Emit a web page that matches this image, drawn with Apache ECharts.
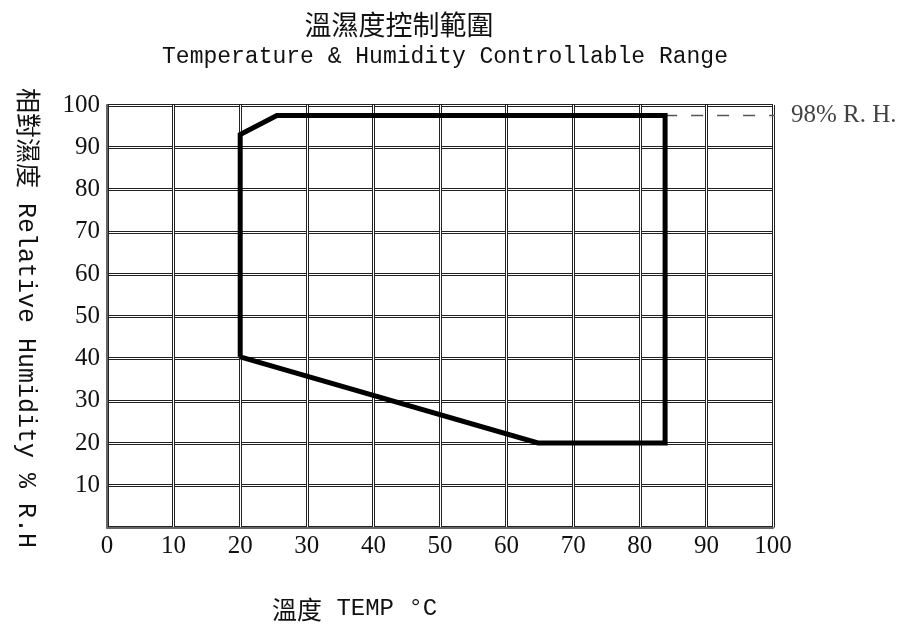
<!DOCTYPE html>
<html>
<head>
<meta charset="utf-8">
<script src="https://cdn.jsdelivr.net/npm/echarts@6/dist/echarts.min.js"></script>
<style>html,body{margin:0;padding:0;background:#fff;}#c{width:902px;height:626px;}</style>
</head>
<body>
<div id="c"></div>
<script>
// ---- data ----
const titleCN = '溫濕度控制範圍';
const titleEN = 'Temperature & Humidity Controllable Range';
const yAxisName = '相對濕度 Relative Humidity % R.H';
const xAxisNameCN = '溫度';
const xAxisNameEN = 'TEMP';
const xAxisUnit = '°C';
const tempPoints = [20, 20, 25.5, 83.8, 83.8, 64.7, 20];      // °C
const rhPoints   = [40.4, 93, 97.5, 97.5, 20, 20, 40.4];      // % R.H.
const refTemp = [83.8, 100];
const refTickTemp = [100, 101.5];
const refRH = 97.5;
const refLabel = '98% R. H.';
const axisMin = 0, axisMax = 100, axisStep = 10;

const polygon = tempPoints.map((t, i) => [t, rhPoints[i]]);
const refLine = refTemp.map(t => [t, refRH]);
const refTick = refTickTemp.map(t => [t, refRH]);

const serif = '"Liberation Serif", "DejaVu Serif", serif';
const mono = '"Liberation Mono", "Noto Sans CJK TC", monospace';
const cjk = '"Noto Sans CJK TC", sans-serif';

const chart = echarts.init(document.getElementById('c'), null, {renderer: 'canvas'});
const gridBox = {left: 107, right: 129, top: 105, bottom: 98.5};

function valAxis(extra) {
  return Object.assign({
    type: 'value', min: axisMin, max: axisMax, interval: axisStep,
  }, extra);
}

chart.setOption({
  backgroundColor: '#fff',
  animation: false,
  grid: Object.assign({containLabel: false}, gridBox),
  xAxis: [
    valAxis({
      position: 'bottom',
      axisLine: {show: true, lineStyle: {color: '#666', width: 2}},
      axisTick: {show: false},
      axisLabel: {color: '#111', fontSize: 25, fontFamily: serif, margin: 6},
      splitLine: {show: true, lineStyle: {color: '#222', width: 3}}
    }),
    valAxis({
      position: 'bottom',
      axisLine: {show: false}, axisTick: {show: false}, axisLabel: {show: false},
      splitLine: {show: true, lineStyle: {color: '#fff', width: 1}}
    })
  ],
  yAxis: [
    valAxis({
      position: 'left',
      axisLine: {show: true, lineStyle: {color: '#666', width: 2}},
      axisTick: {show: false},
      axisLabel: {color: '#111', fontSize: 25, fontFamily: serif, margin: 7,
        formatter: v => v === 0 ? '' : String(v)},
      splitLine: {show: true, lineStyle: {color: '#222', width: 3}}
    }),
    valAxis({
      position: 'right',
      axisLine: {show: false}, axisTick: {show: false}, axisLabel: {show: false},
      splitLine: {show: true, lineStyle: {color: '#fff', width: 1}}
    })
  ],
  title: [
    {text: titleCN, left: 394, top: 6, textAlign: 'center',
     textStyle: {fontFamily: cjk, fontSize: 27, fontWeight: 'normal', color: '#111'}},
    {text: titleEN, left: 440, top: 40, textAlign: 'center',
     textStyle: {fontFamily: mono, fontSize: 23, fontWeight: 'normal', color: '#111'}}
  ],
  graphic: [
    {type: 'text', x: 26, y: 318, rotation: -Math.PI / 2,
     style: {text: yAxisName, font: '25px ' + mono, fill: '#111',
             align: 'center', verticalAlign: 'middle'}},
    {type: 'text', x: 272, y: 609,
     style: {text: '{c|' + xAxisNameCN + '}{m| ' + xAxisNameEN + ' ' + xAxisUnit + '}',
             fill: '#111', verticalAlign: 'middle', align: 'left',
             rich: {c: {fontFamily: cjk, fontSize: 25, fill: '#111'},
                    m: {fontFamily: mono, fontSize: 24, fill: '#111'}}}}
  ],
  series: [
    {type: 'line', xAxisIndex: 0, yAxisIndex: 0, data: refLine, symbol: 'none',
     lineStyle: {color: '#555', width: 1.5, type: [12, 14]}, z: 3},
    {type: 'line', xAxisIndex: 0, yAxisIndex: 0, data: refTick, symbol: 'none', clip: false,
     lineStyle: {color: '#555', width: 1.5}, z: 3},
    {type: 'scatter', xAxisIndex: 0, yAxisIndex: 0, clip: false, symbolSize: 0,
     data: [refTick[1]],
     label: {show: true, position: 'right', distance: 8, formatter: refLabel,
             fontFamily: serif, fontSize: 25, color: '#111'}},
    {type: 'line', xAxisIndex: 0, yAxisIndex: 0, data: polygon, symbol: 'none',
     lineStyle: {color: '#000', width: 5, join: 'miter'}, z: 5}
  ]
});
</script>
</body>
</html>
